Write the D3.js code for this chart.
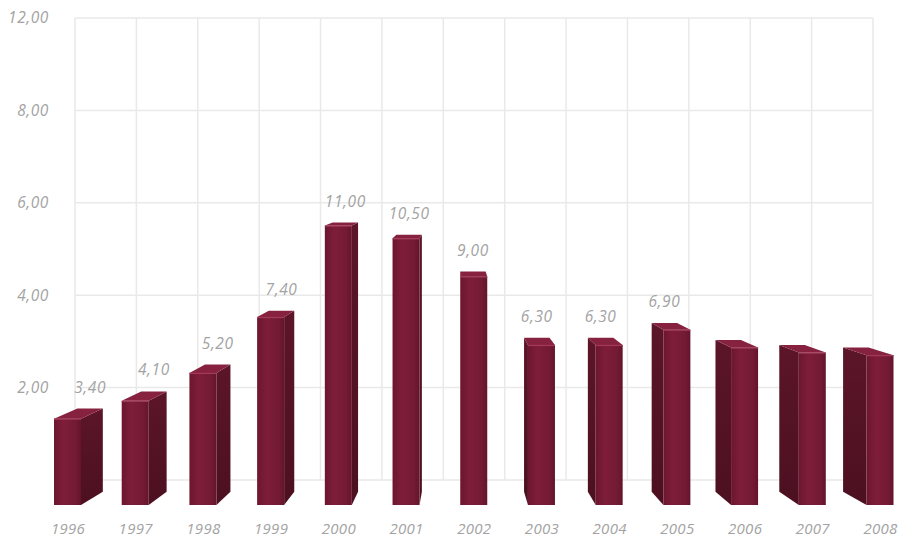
<!DOCTYPE html>
<html><head><meta charset="utf-8">
<script src="https://cdn.jsdelivr.net/npm/d3@7"></script>
<style>
html,body{margin:0;padding:0;background:#fff;}
text{font-family:"Open Sans","DejaVu Sans",sans-serif;font-style:italic;}
</style></head>
<body><svg id="chart" width="902" height="539"></svg>
<script>
const years = ["1996","1997","1998","1999","2000","2001","2002","2003","2004","2005","2006","2007","2008"];
const values = [3.4, 4.1, 5.2, 7.4, 11.0, 10.5, 9.0, 6.3, 6.3, 6.9, 6.2, 6.0, 5.9];
const valueLabels = ["3,40","4,10","5,20","7,40","11,00","10,50","9,00","6,30","6,30","6,90","","",""];
const yTickValues = [2, 4, 6, 8, 10];
const yTickLabels = ["2,00","4,00","6,00","8,00","12,00"];

const svg = d3.select("#chart");

// back wall scales
const xGrid = d3.scaleBand().domain(years).range([75, 873]).padding(0);
const yGrid = d3.scaleLinear().domain([0, 10]).range([480, 18]);
// front plane scales
const xFront = d3.scalePoint().domain(years).range([67.5, 880]);
const yFront = d3.scaleLinear().domain([0, 12]).range([505, 505 - 12 * 25.4]);

const VPX = 460, VPY = 144, KX = 0.0576, KY = 0.0365;
const dx = x => (VPX - x) * KX;
const dy = y => -(y - VPY) * KY;
const barW = 27;
const TXT = "#a3a3a3";

const defs = svg.append("defs");
const gf = defs.append("linearGradient").attr("id","front").attr("x1","0").attr("x2","1").attr("y1","0").attr("y2","0");
gf.append("stop").attr("offset","0").attr("stop-color","#6c1630");
gf.append("stop").attr("offset","0.35").attr("stop-color","#7e1d3a");
gf.append("stop").attr("offset","0.8").attr("stop-color","#731a34");
gf.append("stop").attr("offset","1").attr("stop-color","#64142c");
const gs = defs.append("linearGradient").attr("id","side").attr("x1","0").attr("x2","0").attr("y1","0").attr("y2","1");
gs.append("stop").attr("offset","0").attr("stop-color","#5c1529");
gs.append("stop").attr("offset","1").attr("stop-color","#4c1021");

// grid
const grid = svg.append("g");
const vx = xGrid.domain().map(d => xGrid(d)).concat([xGrid.range()[1]]);
grid.selectAll("line.v").data(vx).join("line")
  .attr("x1", d => d).attr("x2", d => d)
  .attr("y1", yGrid(10)).attr("y2", yGrid(0))
  .attr("stroke", "#e9e9e9").attr("stroke-width", 1.5);
grid.selectAll("line.h").data([0].concat(yTickValues)).join("line")
  .attr("x1", 75).attr("x2", 873)
  .attr("y1", d => yGrid(d)).attr("y2", d => yGrid(d))
  .attr("stroke", "#e9e9e9").attr("stroke-width", 1.5);

// y axis labels
const yAxis = d3.axisLeft(yGrid).tickValues(yTickValues)
  .tickFormat((d, i) => yTickLabels[i]).tickSize(0).tickPadding(0);
const ag = svg.append("g").attr("transform", "translate(49,0)").call(yAxis);
ag.select(".domain").remove();
ag.selectAll("text").attr("fill", TXT).attr("font-size", 15.5).attr("letter-spacing", 0.6)
  .attr("font-family", "'Open Sans','DejaVu Sans',sans-serif").attr("font-style","italic");

// bars
const bars = svg.append("g");
years.forEach((yr, i) => {
  const c = xFront(yr), xL = c - barW / 2, xR = c + barW / 2;
  const yT = yFront(values[i]), yB = yFront(0);
  const g = bars.append("g");
  const edge = c < VPX ? xR : xL;
  const ex = dx(edge);
  g.append("path").attr("d", d3.line()([
    [edge, yT], [edge + ex, yT + dy(yT)], [edge + ex, yB + dy(yB)], [edge, yB]
  ]) + "Z").attr("fill", "url(#side)");
  g.append("path").attr("d", d3.line()([
    [xL, yT], [xR, yT], [xR + dx(xR), yT + dy(yT)], [xL + dx(xL), yT + dy(yT)]
  ]) + "Z").attr("fill", "#86223f");
  g.append("rect").attr("x", xL).attr("y", yT).attr("width", barW).attr("height", yB - yT)
    .attr("fill", "url(#front)");
  g.append("line").attr("x1", xL).attr("x2", xR).attr("y1", yT + 0.5).attr("y2", yT + 0.5)
    .attr("stroke", "#a33a5a").attr("stroke-width", 1.2);
  if (valueLabels[i]) {
    const bx = c + dx(c), by = yT + dy(yT);
    svg.append("text").attr("x", bx).attr("y", by - 16).attr("text-anchor", "middle")
      .attr("fill", TXT).attr("font-size", 15.5).attr("letter-spacing", 0.6).text(valueLabels[i]);
  }
});

// x labels
const xAxis = d3.axisBottom(xFront).tickSize(0).tickPadding(0);
const xg = svg.append("g").attr("transform", "translate(0,534)").call(xAxis);
xg.select(".domain").remove();
xg.selectAll("text").attr("fill", TXT).attr("font-size", 15).attr("dy", "0").attr("letter-spacing", 0.3)
  .attr("font-family", "'Open Sans','DejaVu Sans',sans-serif").attr("font-style","italic");
</script></body></html>
